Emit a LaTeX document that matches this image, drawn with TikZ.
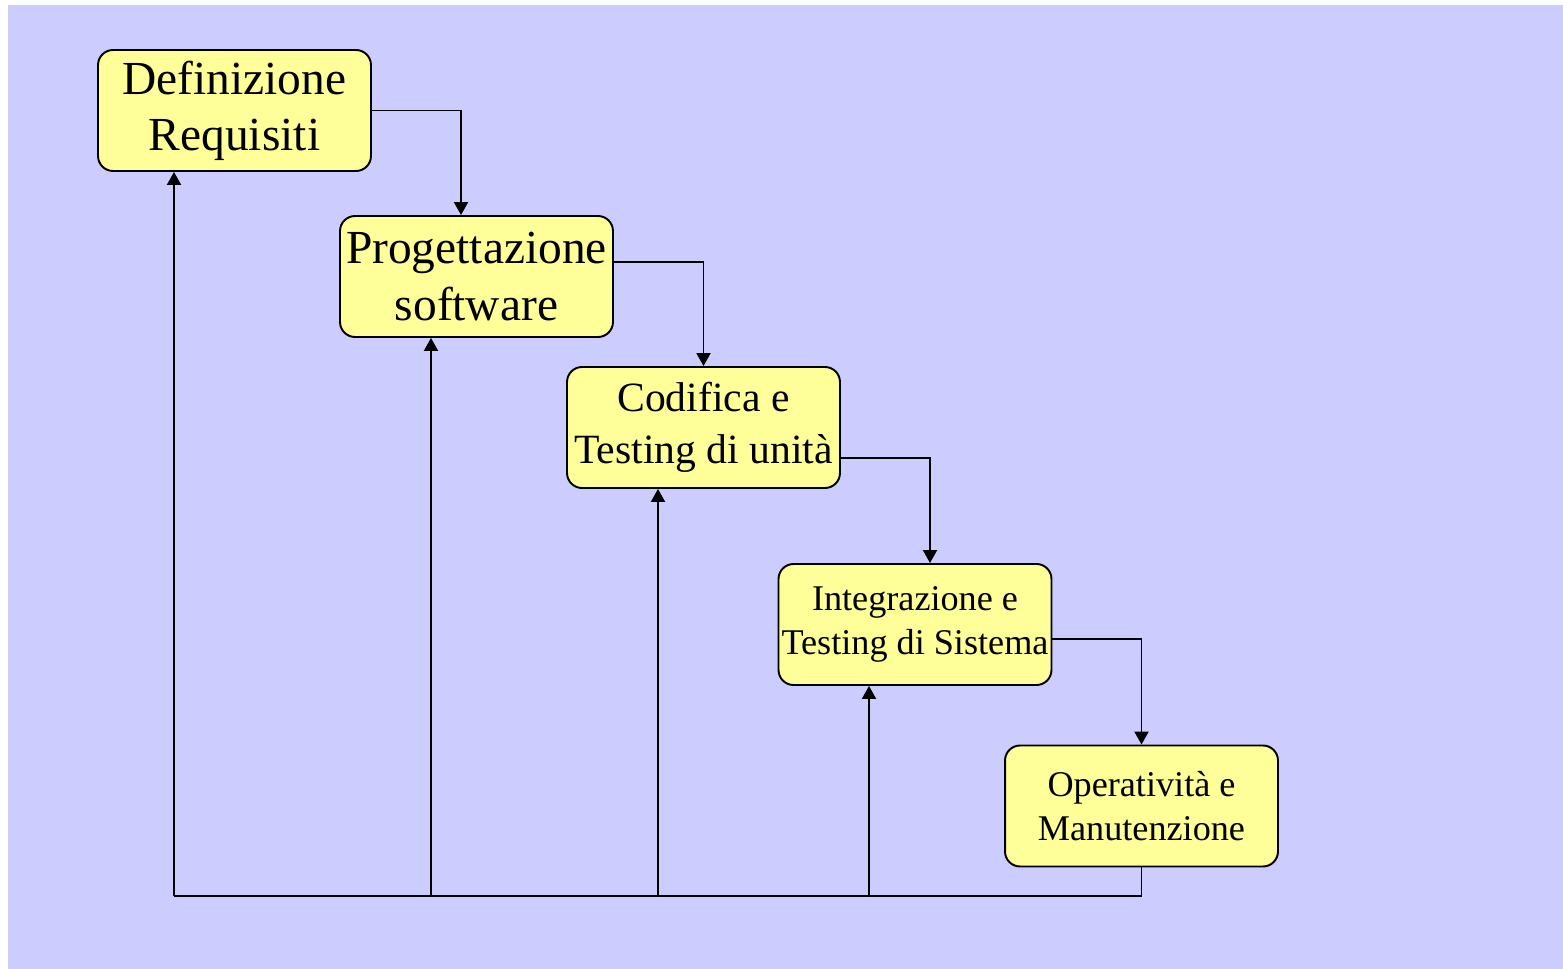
\documentclass[tikz,border=0pt]{standalone}
\usepackage{fontspec}
\setmainfont{Liberation Serif}
\usetikzlibrary{arrows.meta,positioning,calc}
\definecolor{bglavender}{RGB}{204,204,255}
\definecolor{phaseyellow}{RGB}{255,255,153}

\begin{document}
\begin{tikzpicture}[
    x=0.02cm, y=-0.02cm,
    phase/.style={rectangle, rounded corners=0.3cm, draw, line width=1.1pt, fill=phaseyellow, minimum width=5.46cm, minimum height=2.42cm, inner sep=0pt, align=center},
    big/.style={font=\fontsize{27}{32}\selectfont},
    mid/.style={font=\fontsize{23.7}{29.5}\selectfont},
    small/.style={font=\fontsize{20.6}{25.3}\selectfont},
    arrow/.style={-{Triangle[length=0.26cm, width=0.28cm]}, line width=1.1pt},
    link/.style={line width=1.1pt}
]

% Background
\useasboundingbox (0,0) rectangle (1563,969);
\fill[bglavender] (8,5) rectangle (1563,969);

% Phases
\node[phase, big] (req) at (234.5,110.5) {Definizione\\Requisiti};
\node[phase, big] (prog) at (476.5,276.5) {Progettazione\\software};
\node[phase, mid] (cod) at (703.5,427.5) {Codifica e\\Testing di unità};
\node[phase, small] (integ) at (915,624.5) {Integrazione e\\Testing di Sistema};
\node[phase, small] (oper) at (1141.5,806) {Operatività e\\Manutenzione};

% Feedback line
\coordinate (fbR) at (1141.5,896);
\coordinate (fbL) at (174,896);
\coordinate (fb2) at (431,896);
\coordinate (fb3) at (658,896);
\coordinate (fb4) at (869,896);

% Edges - cascade
\draw[arrow] (req.east) -| ([xshift=-0.31cm]prog.north);
\draw[arrow] ([yshift=0.29cm]prog.east) -| (cod.north);
\draw[arrow] ([yshift=-0.61cm]cod.east) -| ([xshift=0.3cm]integ.north);
\draw[arrow] ([yshift=-0.29cm]integ.east) -| (oper.north);

% Edges - feedback
\draw[link] (oper.south) -- (fbR) -- (fbL);
\draw[arrow] (fbL) -- (fbL |- req.south);
\draw[arrow] (fb2) -- (fb2 |- prog.south);
\draw[arrow] (fb3) -- (fb3 |- cod.south);
\draw[arrow] (fb4) -- (fb4 |- integ.south);

\end{tikzpicture}
\end{document}
